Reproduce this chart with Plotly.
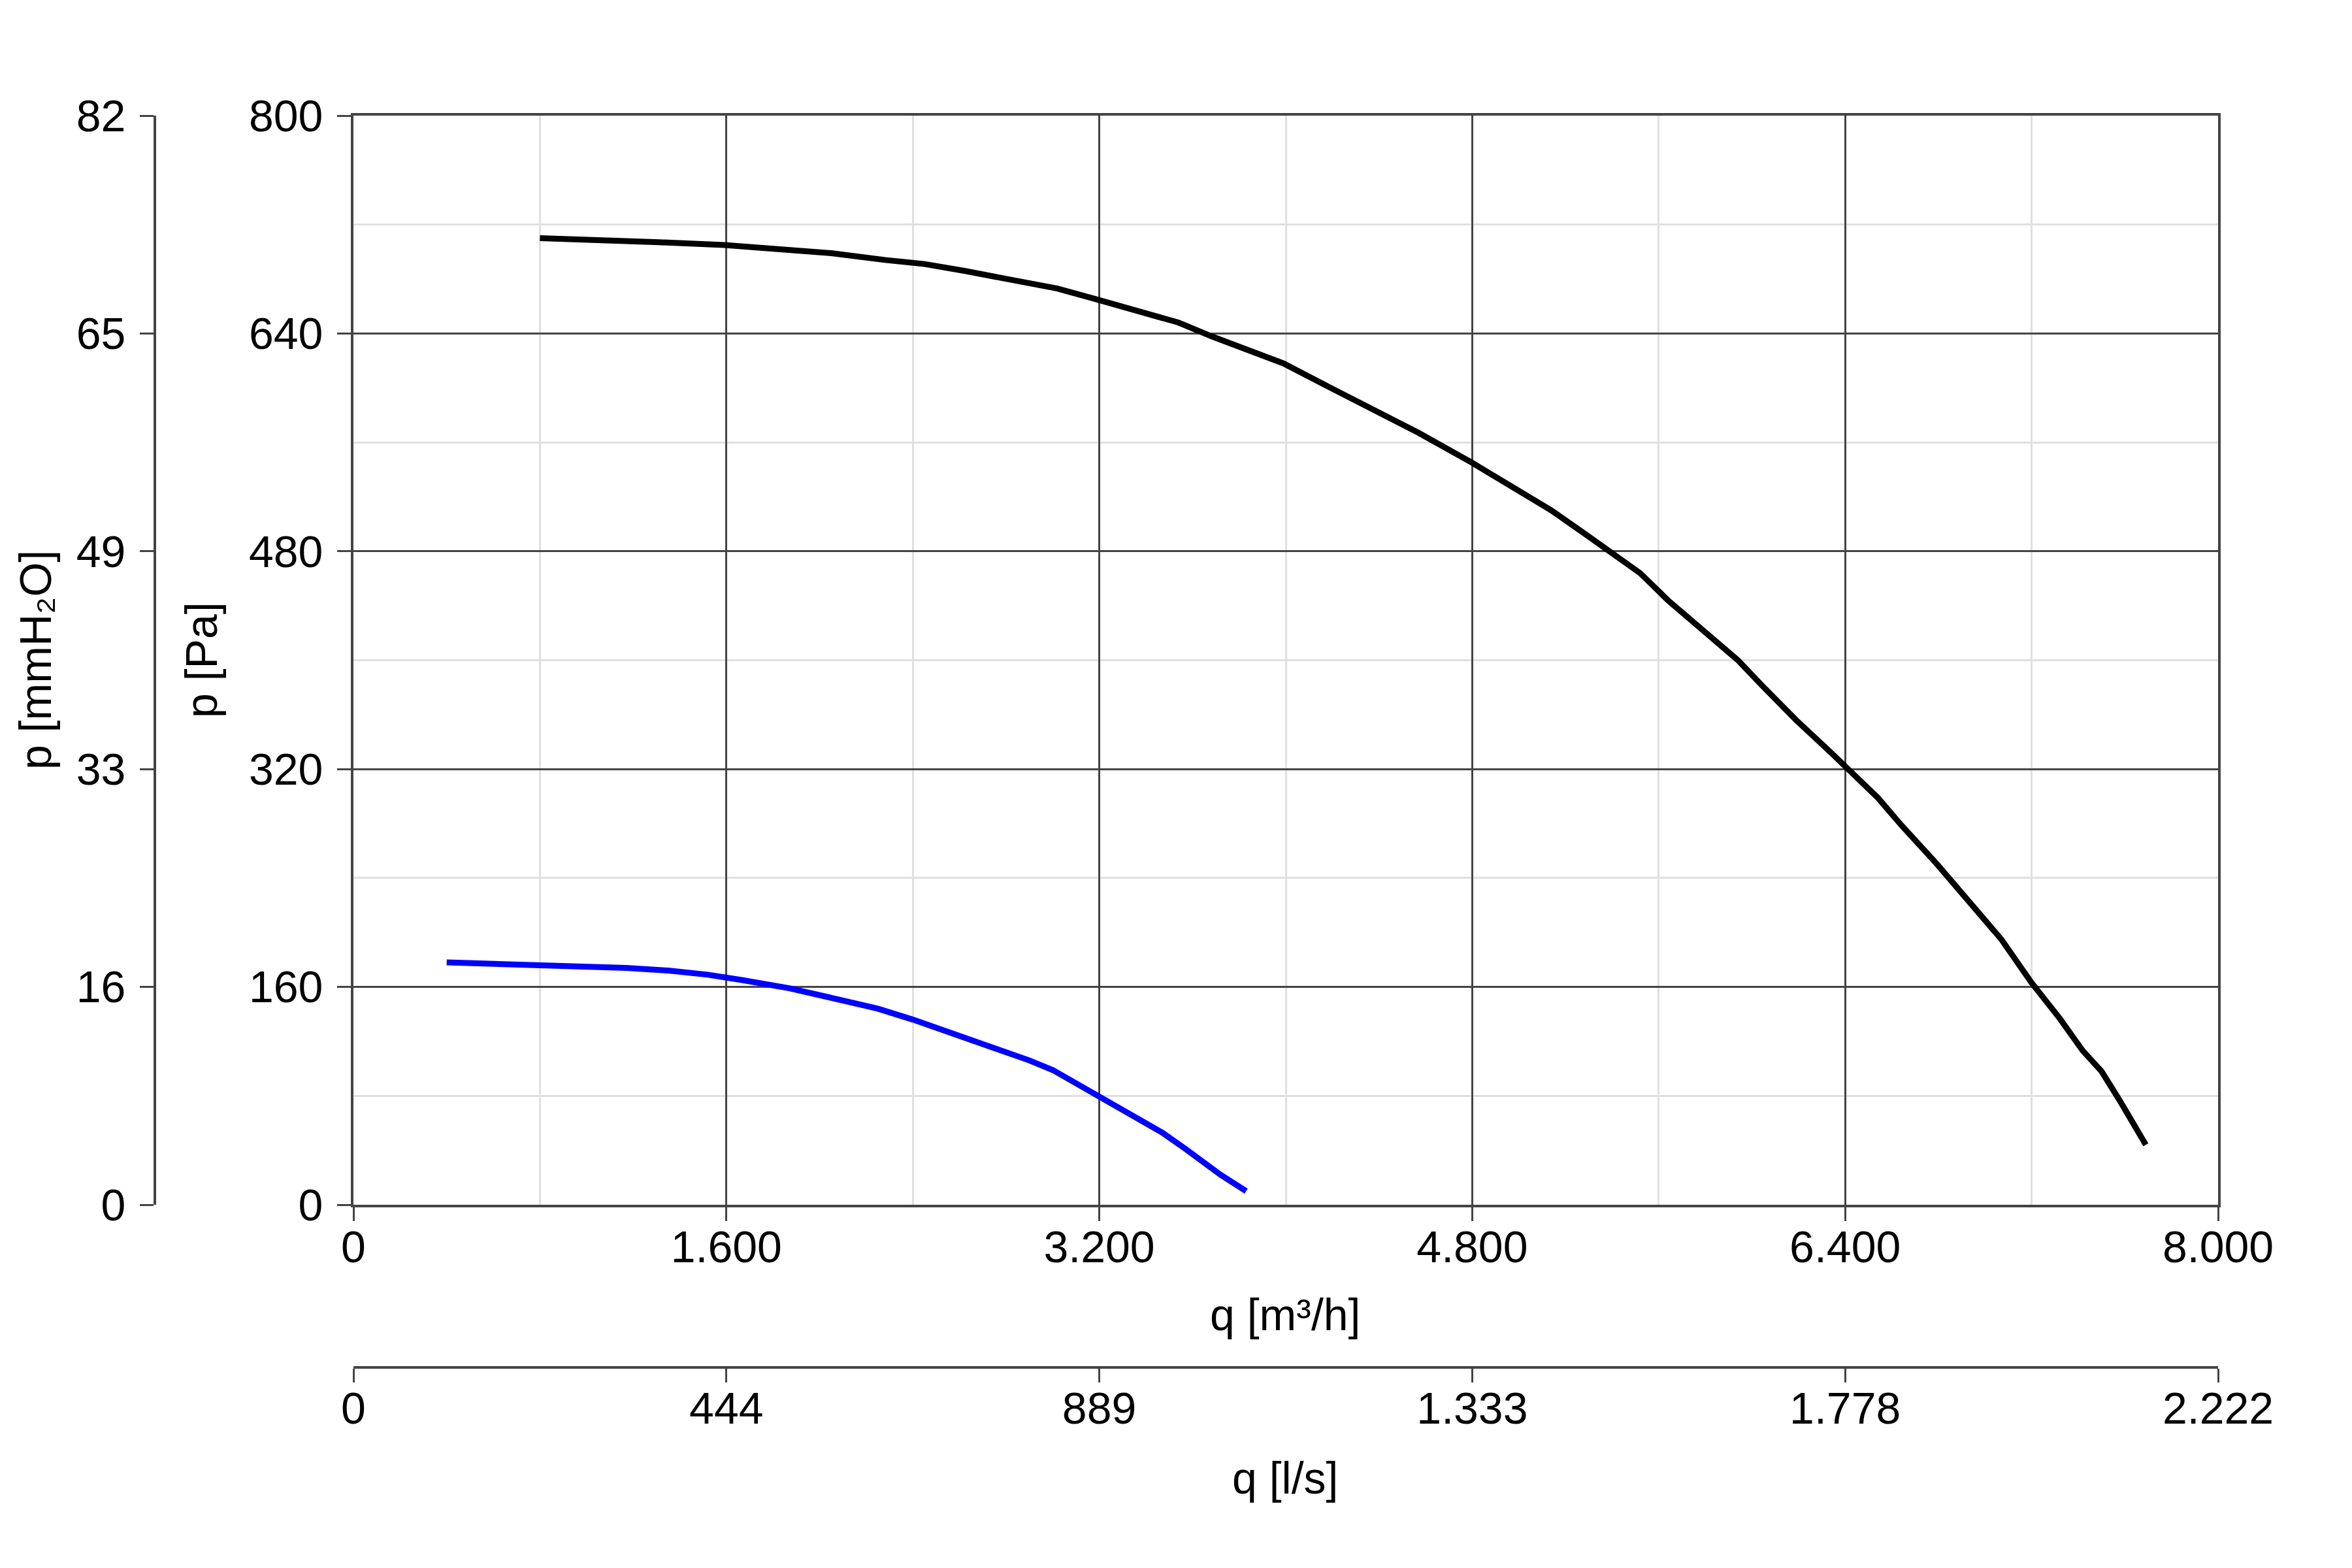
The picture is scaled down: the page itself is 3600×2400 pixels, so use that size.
import plotly.graph_objects as go

# fan curves, q in m3/h, p in Pa
q_black = [800, 1020, 1310, 1590, 1820, 2050, 2280, 2450, 2620, 2820, 3020, 3190,
           3370, 3540, 3680, 3820, 3990, 4170, 4370, 4570, 4800, 4940, 5140, 5290,
           5390, 5520, 5640, 5790, 5940, 6040, 6190, 6340, 6400, 6540, 6640, 6790,
           6940, 7070, 7200, 7320, 7420, 7500, 7580, 7690]
p_black = [710, 709, 707, 705, 702, 699, 694, 691, 686, 679, 673, 665,
           656, 648, 638, 629, 618, 602, 584, 567, 545, 531, 510, 492,
           480, 464, 444, 422, 400, 382, 356, 332, 322, 299, 279, 251,
           221, 195, 163, 137, 113, 98, 76, 44]

q_blue = [400, 620, 920, 1170, 1350, 1520, 1670, 1870, 2050, 2250, 2400, 2570,
          2750, 2900, 3000, 3120, 3200, 3320, 3470, 3570, 3720, 3830]
p_blue = [178, 177, 176, 174, 172, 169, 165, 159, 152, 144, 136, 126,
          115, 106, 99, 87, 80, 68, 53, 41, 22, 10]

# ticks
q_ticks = [0, 1600, 3200, 4800, 6400, 8000]
q_labels = ["0", "1.600", "3.200", "4.800", "6.400", "8.000"]
ls_labels = ["0", "444", "889", "1.333", "1.778", "2.222"]
p_ticks = [0, 160, 320, 480, 640, 800]
p_labels = ["0", "160", "320", "480", "640", "800"]
mm_labels = ["0", "16", "33", "49", "65", "82"]

M3H_PER_LS = 3.6
PA_PER_MMH2O = 9.80665

FONT = "Liberation Sans, Arial, sans-serif"
FS = 68
AX = "#444444"

fig = go.Figure()
fig.add_trace(go.Scatter(x=q_black, y=p_black, mode="lines",
                         line=dict(color="black", width=9), showlegend=False))
fig.add_trace(go.Scatter(x=q_blue, y=p_blue, mode="lines",
                         line=dict(color="#0000ff", width=9), showlegend=False))
# invisible copy so the l/s and mmH2O axes have data
fig.add_trace(go.Scatter(x=[v / M3H_PER_LS for v in q_black],
                         y=[v / PA_PER_MMH2O for v in p_black],
                         xaxis="x2", yaxis="y2", mode="lines",
                         line=dict(color="rgba(0,0,0,0)", width=1),
                         hoverinfo="skip", showlegend=False))

W, H = 3600, 2400
OFF = 8  # page body margin
ml, mt = 0, 177 - OFF
mr = W - (3395 - OFF)
mb = H - (2093 - OFF)
pw = W - ml - mr
ph = H - mt - mb


def px(x):   # page pixel -> paper x
    return (x - OFF - ml) / pw


def py(y):   # page pixel -> paper y
    return (H - mb - (y - OFF)) / ph


axis_common = dict(showline=True, linecolor=AX, linewidth=4,
                   ticks="outside", ticklen=21, tickwidth=3, tickcolor=AX,
                   zeroline=False, automargin=False)

fig.update_layout(
    width=W, height=H,
    margin=dict(l=ml, r=mr, t=mt, b=mb, autoexpand=False),
    paper_bgcolor="white", plot_bgcolor="white",
    font=dict(family=FONT, size=FS, color="black"),
    xaxis=dict(
        domain=[px(541), 1], range=[0, 8000],
        tickvals=q_ticks, ticktext=q_labels, mirror=True,
        showgrid=True, gridcolor=AX, gridwidth=3,
        minor=dict(dtick=800, tick0=0, showgrid=True, gridcolor="#e0e0e0", gridwidth=3),
        ticklabelstandoff=-19, **axis_common,
    ),
    yaxis=dict(
        domain=[py(1844), 1], range=[0, 800],
        tickvals=p_ticks, ticktext=p_labels, mirror=True,
        showgrid=True, gridcolor=AX, gridwidth=3,
        minor=dict(dtick=80, tick0=0, showgrid=True, gridcolor="#e0e0e0", gridwidth=3),
        ticklabelstandoff=8, **axis_common,
    ),
    xaxis2=dict(
        overlaying="x", anchor="free", position=0, side="bottom",
        range=[0, 8000 / M3H_PER_LS],
        tickvals=[v / M3H_PER_LS for v in q_ticks], ticktext=ls_labels,
        showgrid=False, ticklabelstandoff=-19, **axis_common,
    ),
    yaxis2=dict(
        overlaying="y", anchor="free", position=px(237), side="left",
        range=[0, 800 / PA_PER_MMH2O],
        tickvals=[v / PA_PER_MMH2O for v in p_ticks], ticktext=mm_labels,
        showgrid=False, ticklabelstandoff=8, **axis_common,
    ),
)

# axis titles
titles = [
    ("q [m³/h]", 1968, 2012, 0),
    ("q [l/s]", 1968, 2262, 0),
    ("p [Pa]", 308, 1010, -90),
    ("p [mmH₂O]", 54, 1010, -90),
]
for text, x, y, ang in titles:
    fig.add_annotation(text=text, x=px(x), y=py(y), xref="paper", yref="paper",
                       xanchor="center", yanchor="middle", textangle=ang,
                       borderpad=0, showarrow=False,
                       font=dict(family=FONT, size=FS, color="black"))

fig.write_html("out.html")
